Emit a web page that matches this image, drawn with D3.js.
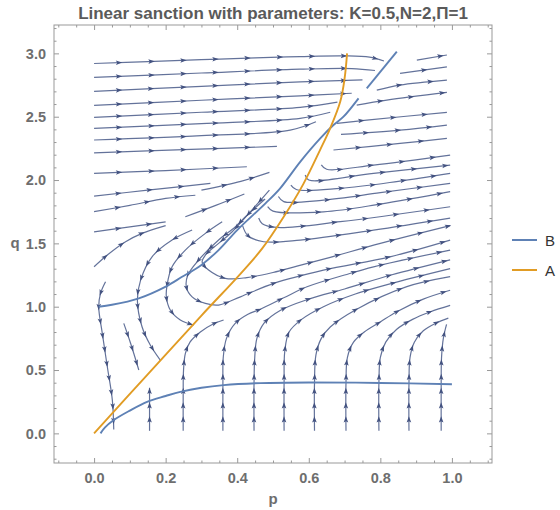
<!DOCTYPE html>
<html>
<head>
<meta charset="utf-8">
<script src="https://cdn.jsdelivr.net/npm/d3@7/dist/d3.min.js"></script>
<style>
  body { margin: 0; background: #fff; }
  svg { display: block; }
</style>
</head>
<body>
<div id="chart"></div>
<script>
// chart text
var title = "Linear sanction with parameters: K=0.5,N=2,\u03A0=1";
var xLabel = "p", yLabel = "q";
var xTicks = [0, 0.2, 0.4, 0.6, 0.8, 1.0];
var yTicks = [0, 0.5, 1.0, 1.5, 2.0, 2.5, 3.0];
var legendNames = ["B", "A"];

// curve A (orange) as [p, q]
var curveA = [[0,0],[0.148,0.46],[0.3,0.93],[0.409,1.26],[0.47,1.46],[0.53,1.71],[0.585,1.97],
  [0.632,2.24],[0.66,2.41],[0.688,2.62],[0.70,2.8],[0.707,3.0]];

// curve B (blue): lower branch and the two pieces of the upper branch
var curveBLow = [[0.018,0],[0.03,0.045],[0.055,0.105],[0.1,0.18],[0.148,0.249],[0.2,0.295],
  [0.241,0.328],[0.3,0.36],[0.362,0.381],[0.465,0.397],[0.6,0.402],[0.8,0.398],[1.0,0.388]];
var curveBHigh = [[0.013,1.0],[0.05,1.015],[0.125,1.066],[0.199,1.157],[0.246,1.236],[0.3,1.33],
  [0.348,1.447],[0.4,1.605],[0.479,1.816],[0.52,1.935],[0.576,2.144],[0.632,2.329],[0.669,2.434],
  [0.697,2.5],[0.739,2.645]];
var curveBTop = [[0.762,2.724],[0.846,3.013]];

// stream lines, each one in the direction of its arrows
var streamLines = [
  // rows in the upper left
  [[0,2.92],[0.15,2.935],[0.3,2.95],[0.45,2.965],[0.576,2.975],[0.7,2.98],[0.77,2.97],[0.81,2.94]],
  [[0,2.81],[0.3,2.845],[0.576,2.875],[0.72,2.88],[0.785,2.865]],
  [[0,2.70],[0.3,2.74],[0.576,2.775],[0.75,2.79]],
  [[0,2.59],[0.3,2.63],[0.576,2.665],[0.72,2.685]],
  [[0,2.495],[0.3,2.535],[0.576,2.574],[0.68,2.615]],
  [[0,2.408],[0.3,2.445],[0.576,2.487],[0.66,2.535]],
  [[0,2.316],[0.3,2.35],[0.548,2.394],[0.62,2.46]],
  [[0,2.215],[0.25,2.24],[0.511,2.265]],
  [[0,2.053],[0.2,2.075],[0.427,2.105]],
  [[0,1.873],[0.15,1.92],[0.325,1.974]],
  [[0,1.75],[0.1,1.80],[0.2,1.855],[0.283,1.88]],
  [[0,1.59],[0.1,1.63],[0.2,1.67]],
  [[0,1.315],[0.037,1.408],[0.088,1.513],[0.134,1.579],[0.2,1.64]],
  [[0.30,1.92],[0.41,1.99],[0.49,2.06]],
  [[0.255,1.71],[0.34,1.80],[0.42,1.89]],
  // arcs left of A
  [[0.032,1.197],[0.018,1.105],[0.013,1.0],[0.023,0.789],[0.037,0.526],[0.051,0.263],[0.055,0.03]],
  [[0.083,0.868],[0.102,0.711],[0.125,0.5]],
  [[0.274,1.605],[0.218,1.526],[0.162,1.394],[0.13,1.21],[0.121,1.053],[0.134,0.842],[0.157,0.698],[0.185,0.579]],
  [[0.358,1.67],[0.311,1.579],[0.255,1.447],[0.218,1.315],[0.204,1.171],[0.202,1.077],[0.213,0.974],[0.241,0.895],[0.278,0.855]],
  [[0.478,1.85],[0.423,1.71],[0.395,1.631],[0.348,1.526],[0.292,1.368],[0.262,1.25],[0.258,1.155],[0.274,1.078],
   [0.311,1.026],[0.348,1.013],[0.409,1.078],[0.502,1.184],[0.641,1.289],[0.827,1.394],[0.995,1.526]],
  [[0.49,1.92],[0.441,1.763],[0.386,1.592],[0.348,1.5],[0.311,1.407],[0.302,1.352],[0.32,1.289],[0.367,1.224],
   [0.427,1.23],[0.5,1.27],[0.567,1.32],[0.66,1.39],[0.8,1.5],[0.995,1.64]],
  // arcs between B and A that run off to the right
  [[0.415,1.64],[0.43,1.56],[0.474,1.513],[0.576,1.526],[0.781,1.605],[0.995,1.70]],
  [[0.46,1.70],[0.47,1.655],[0.511,1.626],[0.688,1.671],[0.995,1.789]],
  [[0.485,1.79],[0.5,1.755],[0.641,1.749],[0.8,1.81],[0.995,1.908]],
  [[0.515,1.87],[0.53,1.83],[0.641,1.842],[0.8,1.9],[0.995,1.974]],
  [[0.55,1.96],[0.565,1.925],[0.688,1.934],[0.85,1.99],[0.995,2.053]],
  [[0.59,2.04],[0.60,2.0],[0.781,2.053],[0.995,2.118]],
  [[0.635,2.12],[0.65,2.085],[0.781,2.118],[0.995,2.197]],
  // upper right
  [[0.669,2.237],[0.855,2.289],[0.986,2.329]],
  [[0.69,2.36],[0.855,2.394],[0.986,2.434]],
  [[0.679,2.447],[0.762,2.473],[0.986,2.534]],
  [[0.734,2.592],[0.818,2.631],[0.986,2.692]],
  [[0.79,2.71],[0.855,2.75],[0.986,2.789]],
  [[0.855,2.842],[0.986,2.894]],
  [[0.902,2.947],[0.986,2.987]],
  // rising lines from the bottom
  [[0.155,0.02],[0.155,0.2],[0.155,0.36]],
  [[0.249,0.02],[0.249,0.3],[0.25,0.5],[0.255,0.63],[0.268,0.72],[0.297,0.80],[0.334,0.865],[0.362,0.895]],
  [[0.36,0.02],[0.36,0.4],[0.361,0.6],[0.37,0.75],[0.395,0.87],[0.43,0.94],[0.465,0.98],[0.53,1.07],
   [0.595,1.157],[0.7,1.25],[0.781,1.315],[0.995,1.447]],
  [[0.447,0.02],[0.447,0.4],[0.449,0.6],[0.455,0.75],[0.475,0.87],[0.52,0.97],[0.6,1.06],[0.7,1.14],[0.83,1.25],[0.995,1.37]],
  [[0.531,0.02],[0.531,0.4],[0.533,0.65],[0.545,0.8],[0.58,0.9],[0.641,1.0],[0.73,1.1],[0.827,1.18],[0.995,1.30]],
  [[0.616,0.02],[0.616,0.4],[0.62,0.62],[0.635,0.75],[0.66,0.84],[0.734,0.98],[0.874,1.158],[0.995,1.237]],
  [[0.704,0.02],[0.704,0.4],[0.708,0.6],[0.725,0.72],[0.755,0.8],[0.8,0.88],[0.846,0.96],[0.92,1.06],[0.995,1.13]],
  [[0.796,0.02],[0.796,0.4],[0.8,0.6],[0.815,0.72],[0.845,0.82],[0.89,0.9],[0.94,0.96],[0.995,1.01]],
  [[0.88,0.02],[0.88,0.4],[0.883,0.6],[0.895,0.72],[0.92,0.81],[0.955,0.87],[0.99,0.91]],
  [[0.97,0.02],[0.97,0.4],[0.971,0.6],[0.976,0.75],[0.985,0.86]]
];

var width = 560, height = 510;
var frame = { left: 54, right: 492, top: 25, bottom: 463 };
var streamColor = "#52638f",
    arrowColor = "#435280",
    colorB = "#5e81b5",
    colorA = "#e19c24",
    frameColor = "#999",
    labelColor = "#6e6e6e",
    font = "'Liberation Sans', Arial, sans-serif";

// arrows sit at even steps along each stream, measured in plot units
// (q counted a bit shorter than p, like the original)
var arrowStep = 0.09, arrowStart = 0.07, qWeight = 0.8;

var x = d3.scaleLinear().domain([-0.112, 1.112]).range([frame.left, frame.right]);
var y = d3.scaleLinear().domain([-0.234, 3.224]).range([frame.bottom, frame.top]);

var svg = d3.select("#chart").append("svg")
    .attr("width", width).attr("height", height)
    .style("font-family", font);

var line = d3.line()
    .x(function(d) { return x(d[0]); })
    .y(function(d) { return y(d[1]); })
    .curve(d3.curveCatmullRom.alpha(0.5));

// streams
var gStreams = svg.append("g");
var gArrows = svg.append("g").attr("fill", arrowColor);
streamLines.forEach(function(pts) {
  var path = gStreams.append("path")
      .datum(pts)
      .attr("d", line)
      .attr("fill", "none")
      .attr("stroke", streamColor)
      .attr("stroke-width", 1.2)
      .attr("stroke-opacity", 0.9);
  addArrows(path);
});

function addArrows(path) {
  var node = path.node(), len = node.getTotalLength();
  var prev = node.getPointAtLength(0), acc = 0, next = arrowStart;
  for (var s = 0.5; s <= len - 2; s += 0.5) {
    var pt = node.getPointAtLength(s);
    var dp = x.invert(pt.x) - x.invert(prev.x),
        dq = (y.invert(pt.y) - y.invert(prev.y)) * qWeight;
    acc += Math.sqrt(dp * dp + dq * dq);
    if (acc >= next) {
      var back = node.getPointAtLength(Math.max(0, s - 2));
      var ang = Math.atan2(pt.y - back.y, pt.x - back.x) * 180 / Math.PI;
      gArrows.append("path")
        .attr("d", "M3.2,0L-3.2,-2.3L-1.8,0L-3.2,2.3Z")
        .attr("transform", "translate(" + pt.x + "," + pt.y + ")rotate(" + ang + ")");
      next += arrowStep;
    }
    prev = pt;
  }
}

// curves
var gCurves = svg.append("g").attr("fill", "none").attr("stroke-width", 1.9);
[curveBLow, curveBHigh, curveBTop].forEach(function(c) {
  gCurves.append("path").datum(c).attr("d", line).attr("stroke", colorB);
});
gCurves.append("path").datum(curveA).attr("d", line).attr("stroke", colorA);

// frame and ticks
svg.append("rect")
    .attr("x", frame.left).attr("y", frame.top)
    .attr("width", frame.right - frame.left).attr("height", frame.bottom - frame.top)
    .attr("fill", "none").attr("stroke", frameColor);

var xMinor = d3.range(-0.1, 1.101, 0.05).filter(function(v) { return Math.abs(v * 5 - Math.round(v * 5)) > 1e-6; });
var yMinor = d3.range(-0.2, 3.201, 0.1).filter(function(v) { return Math.abs(v * 2 - Math.round(v * 2)) > 1e-6; });

function styleAxis(g) {
  g.select(".domain").remove();
  g.selectAll("line").attr("stroke", frameColor);
  g.selectAll("text").attr("fill", labelColor).style("font-size", "14.5px").style("font-weight", "bold");
}

svg.append("g").attr("transform", "translate(0," + frame.bottom + ")")
    .call(d3.axisBottom(x).tickValues(xTicks).tickFormat(d3.format(".1f")).tickSize(-5).tickPadding(10))
    .call(styleAxis);
svg.append("g").attr("transform", "translate(0," + frame.bottom + ")")
    .call(d3.axisBottom(x).tickValues(xMinor).tickFormat("").tickSize(-2.5)).call(styleAxis);
svg.append("g").attr("transform", "translate(0," + frame.top + ")")
    .call(d3.axisTop(x).tickValues(xTicks).tickFormat("").tickSize(-5)).call(styleAxis);
svg.append("g").attr("transform", "translate(0," + frame.top + ")")
    .call(d3.axisTop(x).tickValues(xMinor).tickFormat("").tickSize(-2.5)).call(styleAxis);

svg.append("g").attr("transform", "translate(" + frame.left + ",0)")
    .call(d3.axisLeft(y).tickValues(yTicks).tickFormat(d3.format(".1f")).tickSize(-5).tickPadding(8))
    .call(styleAxis);
svg.append("g").attr("transform", "translate(" + frame.left + ",0)")
    .call(d3.axisLeft(y).tickValues(yMinor).tickFormat("").tickSize(-2.5)).call(styleAxis);
svg.append("g").attr("transform", "translate(" + frame.right + ",0)")
    .call(d3.axisRight(y).tickValues(yTicks).tickFormat("").tickSize(-5)).call(styleAxis);
svg.append("g").attr("transform", "translate(" + frame.right + ",0)")
    .call(d3.axisRight(y).tickValues(yMinor).tickFormat("").tickSize(-2.5)).call(styleAxis);

// labels
svg.append("text")
    .attr("x", (frame.left + frame.right) / 2).attr("y", 19)
    .attr("text-anchor", "middle")
    .attr("fill", "#5a5a5a")
    .style("font-size", "17px").style("font-weight", "bold")
    .text(title);
svg.append("text")
    .attr("x", (frame.left + frame.right) / 2).attr("y", 504)
    .attr("text-anchor", "middle").attr("fill", labelColor)
    .style("font-size", "15px").style("font-weight", "bold")
    .text(xLabel);
svg.append("text")
    .attr("x", 15).attr("y", y(1.5) + 5)
    .attr("text-anchor", "middle").attr("fill", labelColor)
    .style("font-size", "15px").style("font-weight", "bold")
    .text(yLabel);

// legend
var legend = svg.append("g").attr("transform", "translate(512,240)");
legendNames.forEach(function(name, i) {
  var row = legend.append("g").attr("transform", "translate(0," + i * 30 + ")");
  row.append("line").attr("x1", 0).attr("x2", 25).attr("y1", 0).attr("y2", 0)
      .attr("stroke", i === 0 ? colorB : colorA).attr("stroke-width", 2);
  row.append("text").attr("x", 33).attr("y", 5.5)
      .attr("fill", "#333").style("font-size", "15px")
      .text(name);
});
</script>
</body>
</html>
